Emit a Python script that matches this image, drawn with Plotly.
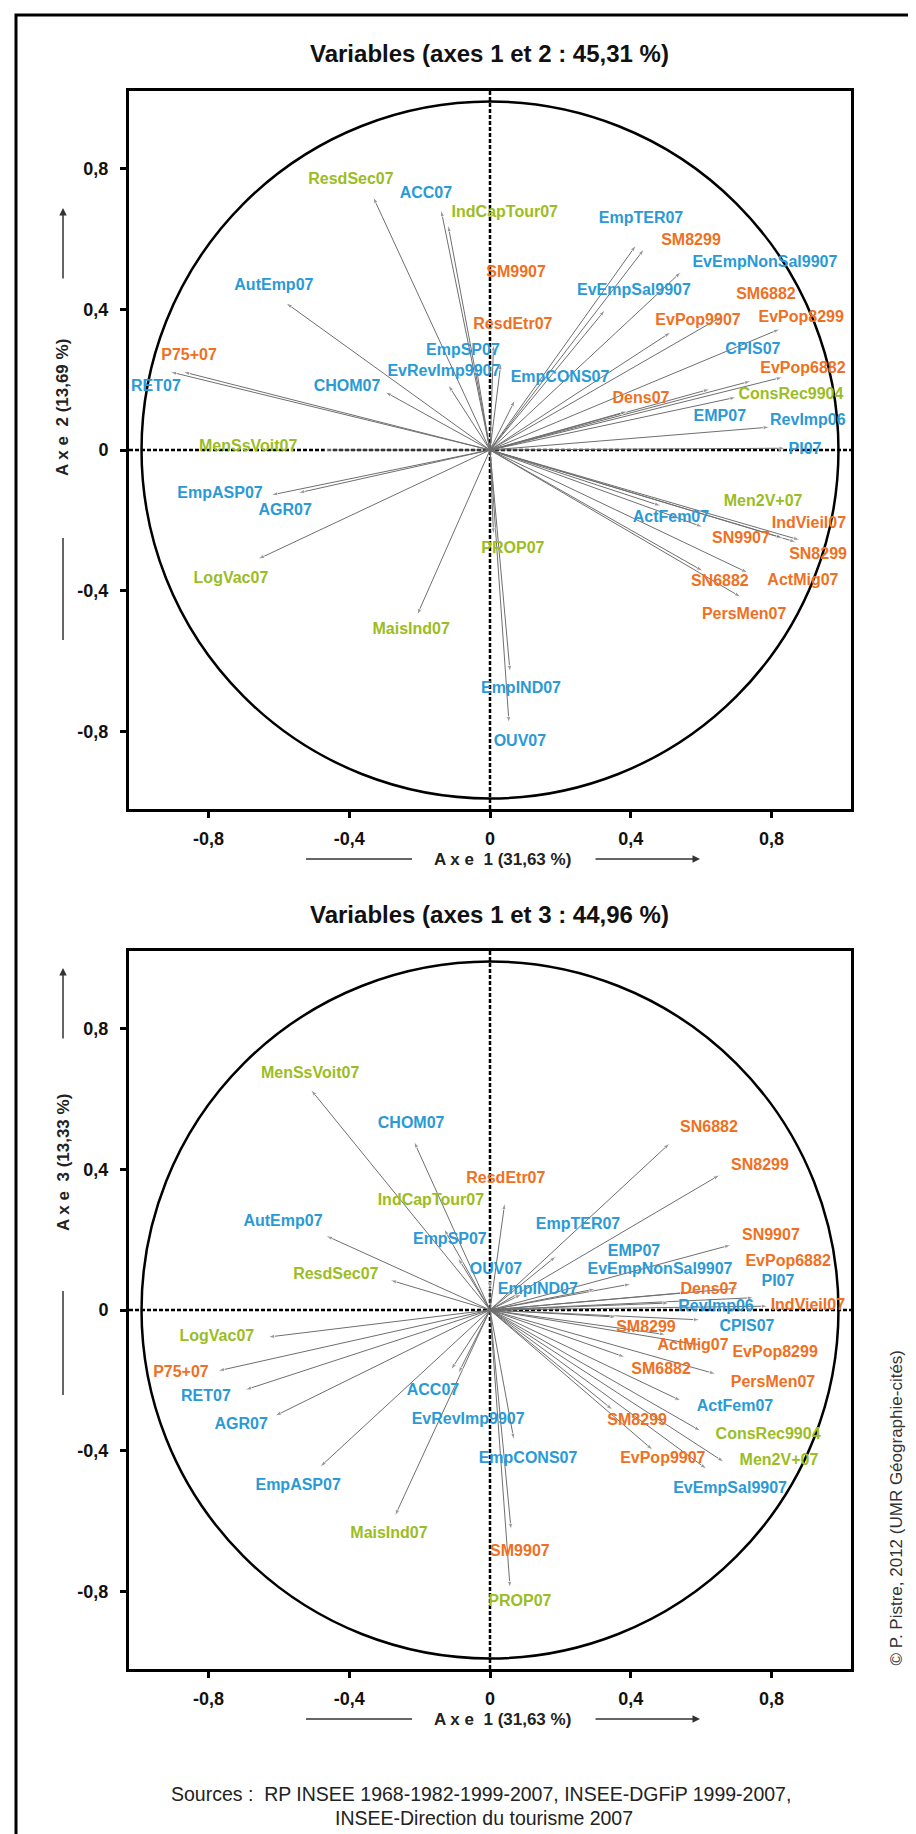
import plotly.graph_objects as go

W, H = 916, 1834

# ---- data (correlation circle coordinates) ----
# axes 1 et 2
names12 = ["ResdSec07", "ACC07", "IndCapTour07", "AutEmp07", "P75+07", "RET07", "CHOM07",
           "EvRevImp9907", "EmpSP07", "SM9907", "ResdEtr07", "EmpCONS07", "EmpTER07", "SM8299",
           "EvEmpNonSal9907", "EvEmpSal9907", "SM6882", "EvPop9907", "EvPop8299", "CPIS07",
           "EvPop6882", "ConsRec9904", "Dens07", "EMP07", "RevImp06", "PI07", "MenSsVoit07",
           "EmpASP07", "AGR07", "LogVac07", "MaisInd07", "PROP07", "EmpIND07", "OUV07",
           "Men2V+07", "ActFem07", "SN9907", "IndVieil07", "SN8299", "ActMig07", "SN6882",
           "PersMen07"]
group12 = ["g", "b", "g", "b", "o", "b", "b",
           "b", "b", "o", "o", "b", "b", "o",
           "b", "b", "o", "o", "o", "b",
           "o", "g", "o", "b", "b", "b", "g",
           "b", "b", "g", "g", "g", "b", "b",
           "g", "b", "o", "o", "o", "o", "o",
           "o"]
f1_12 = [-0.332, -0.139, -0.119, -0.580, -0.909, -0.872, -0.298,
         -0.119, -0.040, 0.010, 0.031, 0.071, 0.415, 0.438,
         0.543, 0.327, 0.660, 0.514, 0.824, 0.742,
         0.832, 0.700, 0.390, 0.625, 0.795, 0.840, -0.470,
         -0.622, -0.545, -0.659, -0.207, 0.010, 0.057, 0.054,
         0.832, 0.486, 0.605, 0.881, 0.870, 0.733, 0.605,
         0.713]
f2_12 = [0.719, 0.682, 0.639, 0.418, 0.222, 0.222, 0.165,
         0.185, 0.240, 0.300, 0.247, 0.142, 0.582, 0.571,
         0.506, 0.398, 0.380, 0.335, 0.344, 0.196,
         0.207, 0.150, 0.110, 0.173, 0.065, 0.005, 0.000,
         -0.128, -0.122, -0.310, -0.469, -0.240, -0.631, -0.776,
         -0.250, -0.159, -0.219, -0.256, -0.262, -0.349, -0.344,
         -0.418]
labx12 = [-0.395, -0.182, 0.042, -0.614, -0.855, -0.949, -0.406,
          -0.131, -0.077, 0.074, 0.065, 0.199, 0.429, 0.571,
          0.781, 0.409, 0.784, 0.591, 0.884, 0.747,
          0.889, 0.855, 0.429, 0.653, 0.903, 0.895, -0.687,
          -0.767, -0.582, -0.736, -0.224, 0.065, 0.088, 0.085,
          0.776, 0.514, 0.713, 0.906, 0.932, 0.889, 0.653,
          0.722]
laby12 = [0.767, 0.727, 0.673, 0.466, 0.267, 0.179, 0.179,
          0.222, 0.281, 0.503, 0.355, 0.205, 0.656, 0.594,
          0.531, 0.452, 0.440, 0.366, 0.375, 0.284,
          0.230, 0.156, 0.145, 0.094, 0.082, 0.000, 0.008,
          -0.125, -0.173, -0.366, -0.511, -0.281, -0.679, -0.830,
          -0.148, -0.193, -0.253, -0.210, -0.298, -0.372, -0.375,
          -0.469]

# axes 1 et 3
names13 = ["MenSsVoit07", "CHOM07", "ResdEtr07", "IndCapTour07", "AutEmp07", "EmpSP07",
           "ResdSec07", "OUV07", "EmpIND07", "EmpTER07", "SN6882", "SN8299", "SN9907", "EMP07",
           "EvEmpNonSal9907", "EvPop6882", "PI07", "Dens07", "RevImp06", "IndVieil07", "CPIS07",
           "SM8299", "ActMig07", "EvPop8299", "SM6882", "PersMen07", "ActFem07", "SM8299",
           "ConsRec9904", "EvPop9907", "Men2V+07", "EvEmpSal9907", "EmpCONS07", "SM9907",
           "PROP07", "EvRevImp9907", "ACC07", "LogVac07", "P75+07", "RET07", "AGR07",
           "EmpASP07", "MaisInd07"]
group13 = ["g", "b", "o", "g", "b", "b",
           "g", "b", "b", "b", "o", "o", "o", "b",
           "b", "o", "b", "o", "b", "o", "b",
           "o", "o", "o", "o", "o", "b", "o",
           "g", "o", "g", "b", "b", "o",
           "g", "b", "b", "g", "o", "b", "b",
           "b", "g"]
f1_13 = [-0.509, -0.216, 0.042, -0.131, -0.466, -0.091,
         -0.284, 0.000, 0.090, 0.188, 0.511, 0.653, 0.685, 0.401,
         0.300, 0.705, 0.750, 0.560, 0.510, 0.790, 0.597,
         0.360, 0.500, 0.600, 0.384, 0.642, 0.543, 0.349,
         0.599, 0.463, 0.665, 0.616, 0.068, 0.060,
         0.057, -0.090, -0.111, -0.631, -0.773, -0.696, -0.611,
         -0.483, -0.270]
f3_13 = [0.626, 0.479, 0.304, 0.231, 0.211, 0.148,
         0.085, 0.080, 0.045, 0.153, 0.474, 0.384, 0.185, 0.074,
         0.060, 0.062, 0.035, 0.050, 0.020, 0.011, -0.028,
         -0.020, -0.070, -0.100, -0.134, -0.182, -0.258, -0.284,
         -0.344, -0.398, -0.432, -0.452, -0.369, -0.625,
         -0.790, -0.180, -0.170, -0.077, -0.173, -0.227, -0.301,
         -0.446, -0.585]
labx13 = [-0.511, -0.224, 0.045, -0.168, -0.588, -0.114,
          -0.438, 0.017, 0.136, 0.250, 0.622, 0.767, 0.798, 0.409,
          0.483, 0.847, 0.818, 0.622, 0.642, 0.903, 0.730,
          0.443, 0.577, 0.810, 0.486, 0.804, 0.696, 0.418,
          0.790, 0.491, 0.821, 0.682, 0.108, 0.085,
          0.085, -0.062, -0.162, -0.776, -0.878, -0.807, -0.707,
          -0.545, -0.287]
laby13 = [0.671, 0.528, 0.373, 0.310, 0.250, 0.199,
          0.100, 0.114, 0.057, 0.241, 0.517, 0.409, 0.210, 0.165,
          0.114, 0.136, 0.080, 0.057, 0.008, 0.011, -0.048,
          -0.050, -0.102, -0.122, -0.170, -0.207, -0.276, -0.315,
          -0.355, -0.423, -0.429, -0.508, -0.423, -0.688,
          -0.830, -0.312, -0.230, -0.077, -0.179, -0.247, -0.327,
          -0.500, -0.636]

tick_vals = [-0.8, -0.4, 0, 0.4, 0.8]
tick_text = ["-0,8", "-0,4", "0", "0,4", "0,8"]

colours = {"g": "#9bbd23", "b": "#2a9ad6", "o": "#f07022"}
FONT = "Liberation Sans, Arial, sans-serif"
ARROW = "#6f6f6f"


def pxx(x):
    return x / W


def pxy(y):
    return 1 - y / H


fig = go.Figure()


def add_panel(xs, ys, lx, ly, names, groups, xa, ya):
    ax_x, ax_y = [], []
    sizes = []
    for a, b in zip(xs, ys):
        ax_x += [0, a, None]
        ax_y += [0, b, None]
        sizes += [0, 7, 0]
    fig.add_trace(go.Scatter(
        x=ax_x, y=ax_y, xaxis=xa, yaxis=ya, mode="lines+markers",
        line=dict(color=ARROW, width=1),
        marker=dict(symbol="arrow", angleref="previous", size=sizes, color=ARROW),
        hoverinfo="skip", showlegend=False))
    for g in ["g", "b", "o"]:
        idx = [i for i, k in enumerate(groups) if k == g]
        fig.add_trace(go.Scatter(
            x=[lx[i] for i in idx], y=[ly[i] for i in idx],
            text=[names[i] for i in idx], xaxis=xa, yaxis=ya,
            mode="text", textposition="middle center",
            textfont=dict(family=FONT, size=16, color=colours[g], weight="bold"),
            cliponaxis=False, hoverinfo="skip", showlegend=False))


add_panel(f1_12, f2_12, labx12, laby12, names12, group12, "x", "y")
add_panel(f1_13, f3_13, labx13, laby13, names13, group13, "x2", "y2")

axstyle = dict(showgrid=False, zeroline=False, showline=True, linecolor="black",
               linewidth=3, mirror=True, ticks="outside", ticklen=6, tickwidth=2.5,
               tickcolor="black", tickvals=tick_vals, ticktext=tick_text,
               tickfont=dict(family=FONT, size=18, color="#111111", weight="bold"))
XR = [-1.0256, 1.0256]
YR = [-1.02, 1.02]

shapes = []
for xr, yr in [("x", "y"), ("x2", "y2")]:
    shapes.append(dict(type="circle", xref=xr, yref=yr, x0=-0.99, x1=0.99, y0=-0.99, y1=0.99,
                       line=dict(color="black", width=2.5), layer="below"))
    shapes.append(dict(type="line", xref=xr, yref=yr, x0=XR[0], x1=XR[1], y0=0, y1=0,
                       line=dict(color="black", width=2.5, dash="4px,2px"), layer="below"))
    shapes.append(dict(type="line", xref=xr, yref=yr, x0=0, x1=0, y0=YR[0], y1=YR[1],
                       line=dict(color="black", width=2.5, dash="4px,2px"), layer="below"))

# outer frame
shapes.append(dict(type="rect", xref="paper", yref="paper", x0=pxx(8), x1=pxx(912),
                   y0=-0.02, y1=pxy(7), line=dict(color="black", width=3)))

annotations = []
AXT = "#333333"


def note(x, y, text, size, bold=False, color="#222222", angle=0, xa="center", ya="middle"):
    annotations.append(dict(x=pxx(x), y=pxy(y), xref="paper", yref="paper", text=text,
                            showarrow=False, textangle=angle, xanchor=xa, yanchor=ya,
                            font=dict(family=FONT, size=size, color=color,
                                      weight="bold" if bold else "normal")))


def axis_titles(ycx, ycy, top_arrow, bottom_line, xcy, label_x, label_y):
    # horizontal (axe 1)
    note(494, xcy, label_x, 17, bold=True)
    shapes.append(dict(type="line", xref="paper", yref="paper", x0=pxx(298), x1=pxx(404),
                       y0=pxy(xcy), y1=pxy(xcy), line=dict(color=AXT, width=1.5)))
    annotations.append(dict(x=pxx(692), y=pxy(xcy), xref="paper", yref="paper", text="",
                            showarrow=True, ax=-106, ay=0, arrowhead=2, arrowsize=1,
                            arrowwidth=1.5, arrowcolor=AXT))
    # vertical
    note(ycx, ycy, label_y, 17, bold=True, angle=-90)
    annotations.append(dict(x=pxx(ycx), y=pxy(top_arrow[0]), xref="paper", yref="paper", text="",
                            showarrow=True, ax=0, ay=top_arrow[1] - top_arrow[0], arrowhead=2,
                            arrowsize=1, arrowwidth=1.5, arrowcolor=AXT))
    shapes.append(dict(type="line", xref="paper", yref="paper", x0=pxx(ycx), x1=pxx(ycx),
                       y0=pxy(bottom_line[0]), y1=pxy(bottom_line[1]), line=dict(color=AXT, width=1.5)))


axis_titles(55, 400, (200, 272), (530, 632), 851, "A x e  1 (31,63 %)", "A x e  2 (13,69 %)")
axis_titles(55, 1155, (960, 1032), (1283, 1387), 1711, "A x e  1 (31,63 %)", "A x e  3 (13,33 %)")

note(482, 45, "Variables (axes 1 et 2 : 45,31 %)", 24, bold=True, color="#111111")
note(482, 906, "Variables (axes 1 et 3 : 44,96 %)", 24, bold=True, color="#111111")

note(473, 1786, "Sources :  RP INSEE 1968-1982-1999-2007, INSEE-DGFiP 1999-2007,", 19.5)
note(476, 1810, "INSEE-Direction du tourisme 2007", 19.5)
note(899, 1660, "© P. Pistre, 2012 (UMR Géographie-cités)", 17, color="#333333", angle=-90,
     xa="right", ya="bottom")

fig.update_layout(
    width=W, height=H, margin=dict(l=0, r=0, t=0, b=0),
    paper_bgcolor="white", plot_bgcolor="white", showlegend=False,
    xaxis=dict(domain=[pxx(121), pxx(843)], range=XR, anchor="y", ticklabelstandoff=5, **axstyle),
    yaxis=dict(domain=[pxy(801), pxy(83)], range=YR, anchor="x", ticklabelstandoff=8, **axstyle),
    xaxis2=dict(domain=[pxx(121), pxx(843)], range=XR, anchor="y2", ticklabelstandoff=5, **axstyle),
    yaxis2=dict(domain=[pxy(1661), pxy(943)], range=YR, anchor="x2", ticklabelstandoff=8, **axstyle),
    shapes=shapes, annotations=annotations,
)

fig.write_html("out.html")
